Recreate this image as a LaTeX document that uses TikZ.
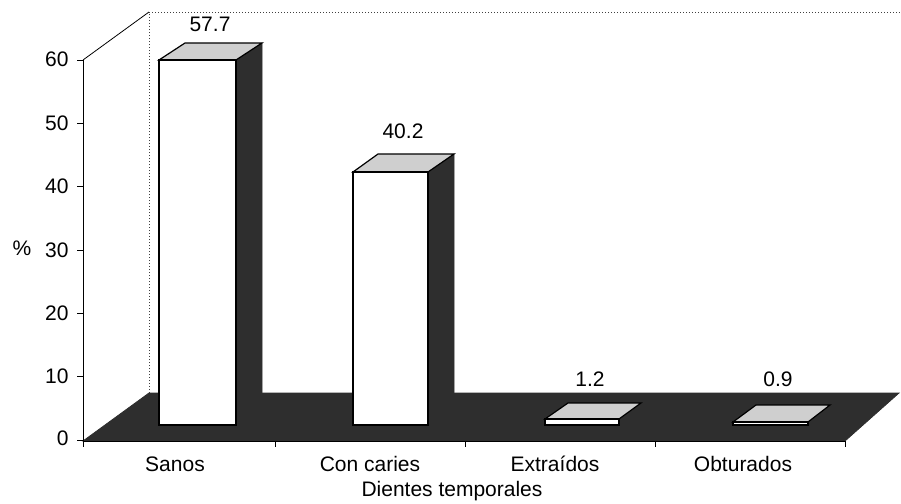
\documentclass[tikz,border=0pt]{standalone}
\usepackage{fontspec}
\setmainfont{Liberation Sans}
\usetikzlibrary{positioning,calc}
\definecolor{shade}{HTML}{2E2E2E}
\definecolor{lidgray}{HTML}{CFCFCF}
\tikzset{
    txt/.style={font=\fontsize{10.5}{12}\selectfont, inner sep=0pt},
    ticklbl/.style={txt, anchor=east},
    floor/.style={fill=shade, draw=shade},
    side/.style={fill=shade, draw=shade},
    lid/.style={fill=lidgray, draw=black, line width=0.6pt},
    front/.style={fill=white, draw=black, line width=0.7pt},
    wall/.style={draw=black!75, densely dotted, line width=0.5pt}
}

\begin{document}
\begin{tikzpicture}[x=0.5pt, y=-0.5pt]
		\useasboundingbox (0,0) rectangle (901,504);

		% walls
		\draw[wall] (149,393) -- (149,12) -- (901,12);
		\draw[line width=0.4pt] (83,60) -- (149,12);
		\draw[floor] (83,441) -- (845,441) -- (899,393) -- (149,393) -- cycle;

		% Sanos
		\fill[side] (236,60) -- (262,43) -- (262,408) -- (236,425) -- cycle;
		\draw[lid] (159,60) -- (185,43) -- (262,43) -- (236,60) -- cycle;
		\draw[front] (159,60) rectangle (236,425);
		% Con caries
		\fill[side] (428,172) -- (454,154) -- (454,408) -- (428,425) -- cycle;
		\draw[lid] (353,172) -- (378,154) -- (454,154) -- (428,172) -- cycle;
		\draw[front] (353,172) rectangle (428,425);
		% Extraidos
		\draw[lid] (545,419) -- (568,403) -- (641,403) -- (619,419) -- cycle;
		\draw[front] (545,419) rectangle (619,425);
		% Obturados
		\draw[lid] (733,422) -- (756,405) -- (830,405) -- (808,422) -- cycle;
		\draw[front] (733,422) rectangle (808,425);

		% axes
		\draw[line width=0.5pt] (83,60) -- (83,447);
		\draw[line width=0.5pt] (83,441) -- (845,441);
		\draw (77,440) -- (83,440);
		\draw (77,376.7) -- (83,376.7);
		\draw (77,313.3) -- (83,313.3);
		\draw (77,250) -- (83,250);
		\draw (77,186.7) -- (83,186.7);
		\draw (77,123.3) -- (83,123.3);
		\draw (77,60) -- (83,60);
		\draw (275,441) -- (275,447);
		\draw (465,441) -- (465,447);
		\draw (655,441) -- (655,447);
		\draw (845,441) -- (845,447);

		\node[ticklbl] (t0) at (69,438) {0};
		\node[ticklbl] (t10) at (69,376.7) {10};
		\node[ticklbl] (t20) at (69,313.3) {20};
		\node[ticklbl] (t30) at (69,250) {30};
		\node[ticklbl] (t40) at (69,186.7) {40};
		\node[ticklbl] (t50) at (69,123.3) {50};
		\node[ticklbl] (t60) at (69,59) {60};
		\node[txt] (pct) at (22,248) {\%};

		\node[txt] (v1) at (210,24) {57.7};
		\node[txt] (v2) at (403,131) {40.2};
		\node[txt] (v3) at (590,379) {1.2};
		\node[txt] (v4) at (778,379) {0.9};

		\node[txt] (c1) at (175,464) {Sanos};
		\node[txt] (c2) at (370,464) {Con caries};
		\node[txt] (c3) at (555,464) {Extraídos};
		\node[txt] (c4) at (743,464) {Obturados};
		\node[txt] (xlab) at (452,491) {Dientes temporales};
	\end{tikzpicture}
\end{document}
